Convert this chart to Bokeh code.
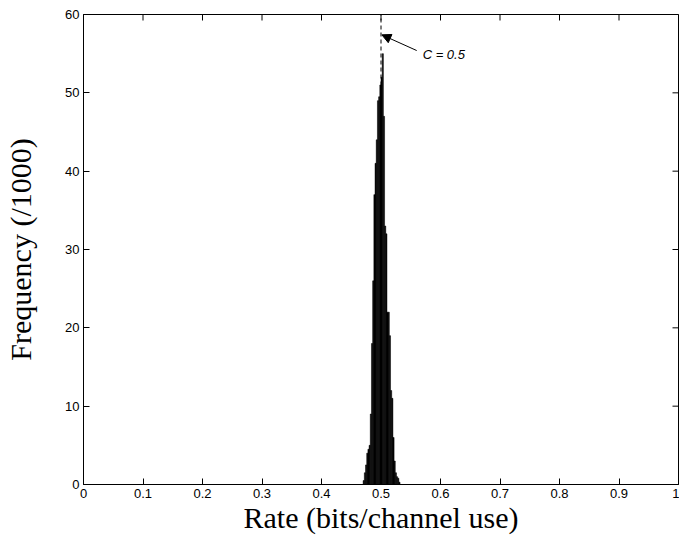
import math
from bokeh.plotting import figure
from bokeh.models import Range1d, FixedTicker, Arrow, NormalHead, Label
from bokeh.embed import file_html
from bokeh.resources import INLINE

# ---- data ----
bin_start = 0.470
bin_width = 0.002
freq = [0.5, 1.5, 2.5, 4, 4.5, 5, 9, 18, 26, 37, 41, 44, 49, 49.5, 51, 52,
        55, 47, 33, 32, 22, 22, 19, 12, 11, 6, 3, 1.5, 1, 0.8, 0.3]
capacity = 0.5
x_ticks = [0, 0.1, 0.2, 0.3, 0.4, 0.5, 0.6, 0.7, 0.8, 0.9, 1.0]
x_tick_labels = ["0", "0.1", "0.2", "0.3", "0.4", "0.5", "0.6", "0.7", "0.8", "0.9", "1"]
y_ticks = [0, 10, 20, 30, 40, 50, 60]
y_tick_labels = ["0", "10", "20", "30", "40", "50", "60"]
x_min, x_max = 0, 1
y_min, y_max = 0, 60
x_title = "Rate (bits/channel use)"
y_title = "Frequency (/1000)"
arrow_tail = (0.560, 55.4)
arrow_tip = (0.5015, 57.4)
label_pos = (0.570, 54.9)
label_text = "C = 0.5"

lefts = [bin_start + i * bin_width for i in range(len(freq))]
rights = [l + bin_width for l in lefts]

p = figure(width=679, height=538, output_backend="svg", toolbar_location=None,
           x_range=Range1d(x_min, x_max), y_range=Range1d(y_min, y_max),
           min_border_left=83, min_border_right=1, min_border_top=14, min_border_bottom=54)
p.background_fill_color = "white"
p.border_fill_color = "white"
p.outline_line_color = "black"
p.outline_line_width = 1
p.xgrid.visible = False
p.ygrid.visible = False

# dashed line at capacity
p.line(x=[capacity, capacity], y=[y_min, y_max], line_color="black", line_width=1, line_dash="4 3")

p.quad(left=lefts, right=rights, top=freq, bottom=0,
       fill_color="black", line_color="black", line_width=0.5)

# inward ticks on the top and right edges (MATLAB box style)
p.scatter(x=x_ticks, y=[y_max] * len(x_ticks), marker="dash", size=12,
          angle=math.pi / 2, line_color="black", line_width=1)
p.scatter(x=[x_max] * len(y_ticks), y=y_ticks, marker="dash", size=12,
          line_color="black", line_width=1)

def style_axis(ax, ticks, labels):
    ax.ticker = FixedTicker(ticks=ticks)
    ax.major_label_overrides = {t: l for t, l in zip(ticks, labels)}
    ax.major_tick_in = 6
    ax.major_tick_out = 0
    ax.minor_tick_in = 0
    ax.minor_tick_out = 0
    ax.axis_line_color = "black"
    ax.major_tick_line_color = "black"
    ax.major_label_text_font = "Liberation Sans"
    ax.major_label_text_color = "black"
    ax.major_label_text_font_size = "13px"

style_axis(p.xaxis[0], x_ticks, x_tick_labels)
style_axis(p.yaxis[0], y_ticks, y_tick_labels)
p.xaxis[0].major_label_standoff = 4
p.yaxis[0].major_label_standoff = 4

p.xaxis[0].axis_label = x_title
p.yaxis[0].axis_label = y_title
for ax in (p.xaxis[0], p.yaxis[0]):
    ax.axis_label_text_font = "Liberation Serif"
    ax.axis_label_text_font_size = "30px"
    ax.axis_label_text_font_style = "normal"
    ax.axis_label_text_color = "black"
p.xaxis[0].axis_label_standoff = 0
p.yaxis[0].axis_label_standoff = 25

p.add_layout(Arrow(x_start=arrow_tail[0], y_start=arrow_tail[1],
                   x_end=arrow_tip[0], y_end=arrow_tip[1],
                   line_color="black", line_width=1,
                   end=NormalHead(size=9, fill_color="black", line_color="black", line_width=1)))
p.add_layout(Label(x=label_pos[0], y=label_pos[1], text=label_text,
                   text_font="Liberation Sans", text_font_style="italic",
                   text_font_size="13px", text_baseline="middle", text_color="black"))

open("out.html", "w").write(file_html(p, INLINE))
